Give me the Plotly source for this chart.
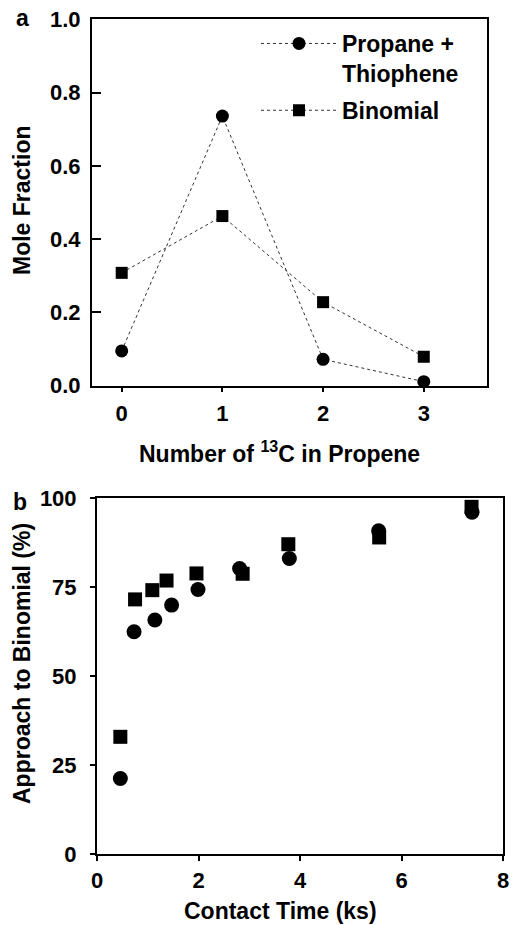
import plotly.graph_objects as go

# Panel a data
n13c = [0, 1, 2, 3]
propane_thiophene = [0.095, 0.736, 0.072, 0.011]
binomial = [0.308, 0.463, 0.228, 0.079]

# Panel b data
time_circ = [0.46, 0.73, 1.14, 1.47, 1.99, 2.81, 3.79, 5.55, 7.39]
approach_circ = [21.3, 62.5, 65.8, 70.0, 74.4, 80.3, 83.1, 90.9, 96.1]
time_sq = [0.46, 0.75, 1.09, 1.37, 1.96, 2.87, 3.77, 5.56, 7.38]
approach_sq = [33.0, 71.6, 74.2, 76.9, 78.9, 78.8, 87.1, 89.0, 97.6]

FONT = "Liberation Sans, Arial, Helvetica, sans-serif"
W, H = 513, 925

fig = go.Figure()

fig.add_trace(go.Scatter(
    x=n13c, y=propane_thiophene, name="Propane +<br>Thiophene",
    mode="lines+markers", legendgroup="g1",
    line=dict(color="#333333", width=1, dash="dot"),
    marker=dict(symbol="circle", size=13, color="black"),
    cliponaxis=False, xaxis="x", yaxis="y"))
fig.add_trace(go.Scatter(
    x=n13c, y=binomial, name="Binomial",
    mode="lines+markers", legendgroup="g2",
    line=dict(color="#333333", width=1, dash="dot"),
    marker=dict(symbol="square", size=12, color="black"),
    cliponaxis=False, xaxis="x", yaxis="y"))

fig.add_trace(go.Scatter(
    x=time_sq, y=approach_sq, mode="markers", showlegend=False,
    marker=dict(symbol="square", size=14, color="black"),
    cliponaxis=False, xaxis="x2", yaxis="y2"))
fig.add_trace(go.Scatter(
    x=time_circ, y=approach_circ, mode="markers", showlegend=False,
    marker=dict(symbol="circle", size=15, color="black"),
    cliponaxis=False, xaxis="x2", yaxis="y2"))

tickfont = dict(family=FONT, size=22, color="black", weight="bold")
axis_common = dict(showgrid=False, zeroline=False, showline=True, mirror=True,
                   automargin=False, linecolor="black", linewidth=2,
                   tickwidth=1.5, tickcolor="black", tickfont=tickfont)

fig.update_layout(
    template="none",
    width=W, height=H, margin=dict(l=0, r=0, t=0, b=0, pad=0),
    paper_bgcolor="white", plot_bgcolor="white",
    font=dict(family=FONT, color="black"),
    xaxis=dict(domain=[92 / W, 487 / W], range=[-0.295, 3.628],
               ticks="outside", ticklen=4,
               tickvals=[0, 1, 2, 3], ticklabelstandoff=3, anchor="y", **axis_common),
    yaxis=dict(domain=[1 - 385.7 / H, 1 - 19.3 / H], range=[0, 1.0],
               ticks="inside", ticklen=9, ticklabelstandoff=5,
               tickvals=[0, 0.2, 0.4, 0.6, 0.8, 1.0], tickformat=".1f",
               anchor="x", **axis_common),
    xaxis2=dict(domain=[97 / W, 503 / W], range=[0, 8],
                ticks="outside", ticklen=5,
                tickvals=[0, 2, 4, 6, 8], ticklabelstandoff=0, anchor="y2", **axis_common),
    yaxis2=dict(domain=[1 - 854.3 / H, 1 - 498.3 / H], range=[0, 100],
                ticks="outside", ticklen=5, ticklabelstandoff=9,
                tickvals=[0, 25, 50, 75, 100], anchor="x2", **axis_common),
    showlegend=True,
    legend=dict(x=256 / W, y=1 - 22 / H, xanchor="left", yanchor="top",
                bgcolor="rgba(0,0,0,0)", valign="top", itemwidth=76,
                traceorder="grouped", tracegroupgap=4,
                font=dict(family=FONT, size=23, color="black", weight="bold")),
)

ann_font = dict(family=FONT, size=23, color="black", weight="bold")
annotations = [
    dict(text="a", x=22 / W, y=1 - 18 / H, showarrow=False),
    dict(text="b", x=20 / W, y=1 - 502 / H, showarrow=False),
    dict(text="Number of <sup>13</sup>C in Propene", x=279 / W, y=1 - 452 / H, showarrow=False),
    dict(text="Mole Fraction", x=22 / W, y=1 - 200 / H, textangle=-90, showarrow=False),
    dict(text="Contact Time (ks)", x=280 / W, y=1 - 911 / H, showarrow=False),
    dict(text="Approach to Binomial (%)", x=22 / W, y=1 - 664 / H, textangle=-90, showarrow=False),
]
for a in annotations:
    a.update(xref="paper", yref="paper", xanchor="center", yanchor="middle", font=ann_font)
fig.update_layout(annotations=annotations)

fig.write_html("out.html", config={"displayModeBar": False},
               post_script="document.body.style.margin='0';document.body.style.padding='0';")
